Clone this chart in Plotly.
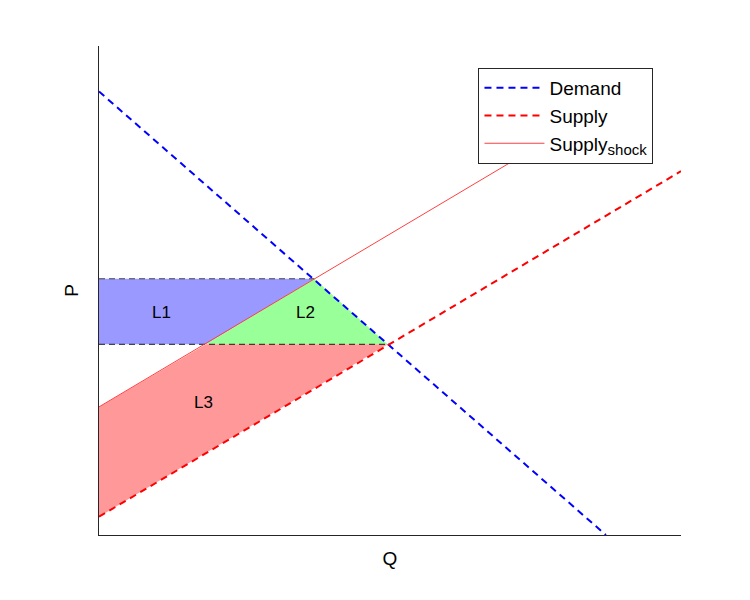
import plotly.graph_objects as go

# Data (axis units: Q 0..10, P 0..10)
demand_q = [0.0, 8.71]
demand_p = [9.07, 0.0]
supply_q = [0.0, 10.0]
supply_p = [0.374, 7.44]
shock_q = [0.0, 8.5]
shock_p = [2.62, 8.63]

p_high = 5.24   # price with shock
p_low = 3.90    # equilibrium price
q_shock_eq = 3.70
q_eq = 4.96
q_shock_at_low = 1.84

l1_q = [0, 0, q_shock_eq, q_shock_at_low]
l1_p = [p_low, p_high, p_high, p_low]
l2_q = [q_shock_at_low, q_shock_eq, q_eq]
l2_p = [p_low, p_high, p_low]
l3_q = [0, 0, q_shock_at_low, q_eq]
l3_p = [0.374, 2.62, p_low, p_low]

labels = ["L1", "L2", "L3"]
label_q = [1.08, 3.54, 1.80]
label_p = [4.54, 4.54, 2.70]

fig = go.Figure()

fig.add_trace(go.Scatter(x=l1_q, y=l1_p, fill="toself", fillcolor="#9999ff",
                         line=dict(width=0), mode="lines", showlegend=False, hoverinfo="skip"))
fig.add_trace(go.Scatter(x=l2_q, y=l2_p, fill="toself", fillcolor="#99ff99",
                         line=dict(width=0), mode="lines", showlegend=False, hoverinfo="skip"))
fig.add_trace(go.Scatter(x=l3_q, y=l3_p, fill="toself", fillcolor="#ff9999",
                         line=dict(width=0), mode="lines", showlegend=False, hoverinfo="skip"))

# horizontal dashed lines
fig.add_trace(go.Scatter(x=[0, q_shock_eq], y=[p_high, p_high], mode="lines",
                         line=dict(color="rgba(0,0,0,0.7)", width=1.2, dash="6px,4px"),
                         showlegend=False, hoverinfo="skip"))
fig.add_trace(go.Scatter(x=[0, q_eq], y=[p_low, p_low], mode="lines",
                         line=dict(color="rgba(0,0,0,0.7)", width=1.2, dash="6px,4px"),
                         showlegend=False, hoverinfo="skip"))

fig.add_trace(go.Scatter(x=demand_q, y=demand_p, mode="lines", name="Demand",
                         line=dict(color="#0000ff", width=2, dash="7px,5px")))
fig.add_trace(go.Scatter(x=supply_q, y=supply_p, mode="lines", name="Supply",
                         line=dict(color="#ff0000", width=2, dash="7px,5px")))
fig.add_trace(go.Scatter(x=shock_q, y=shock_p, mode="lines",
                         name="Supply<sub><span style='font-size:15px'>shock</span></sub>",
                         line=dict(color="#ff4040", width=1)))

for t, q, p in zip(labels, label_q, label_p):
    fig.add_annotation(x=q, y=p, text=t, showarrow=False,
                       font=dict(size=17, color="black", family="Liberation Sans, Arial"))

fig.update_layout(
    width=750, height=600,
    margin=dict(l=91, r=77, t=38, b=73),
    paper_bgcolor="white", plot_bgcolor="white",
    font=dict(family="Liberation Sans, Arial", size=16, color="black"),
    xaxis=dict(range=[0, 10], showgrid=False, zeroline=False, showticklabels=False,
               ticks="", showline=True, linecolor="#262626", linewidth=1,
               title=dict(text="Q", font=dict(size=19), standoff=16)),
    yaxis=dict(range=[0, 10], showgrid=False, zeroline=False, showticklabels=False,
               ticks="", showline=True, linecolor="#262626", linewidth=1,
               title=dict(text="P", font=dict(size=19), standoff=14)),
    legend=dict(x=0.652, y=0.955, xanchor="left", yanchor="top",
                bgcolor="white", bordercolor="#262626", borderwidth=1,
                font=dict(size=19), tracegroupgap=0, itemwidth=60),
    showlegend=True,
)

fig.write_html("out.html")
